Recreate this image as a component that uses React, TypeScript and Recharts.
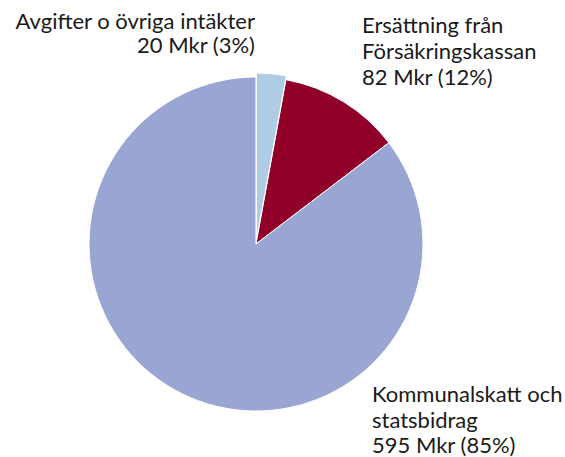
import React from 'react';
import { PieChart, Pie, Cell } from 'recharts';

const categories = ['Avgifter o övriga intäkter', 'Ersättning från Försäkringskassan', 'Kommunalskatt och statsbidrag'];
const values = [20, 82, 595];
const percents = ['3%', '12%', '85%'];
const colors = ['#AECDE5', '#900029', '#99A5D3'];
const labelLines = [
  ['Avgifter o övriga intäkter', '20 Mkr (3%)'],
  ['Ersättning från', 'Försäkringskassan', '82 Mkr (12%)'],
  ['Kommunalskatt och', 'statsbidrag', '595 Mkr (85%)'],
];

const data = categories.map((name, i) => ({ name, value: values[i], pct: percents[i] }));

const FONT = 'Lato, "Open Sans", sans-serif';

// label anchor offsets relative to pie centre
const labelCfg = [
  { dx: -1, dy: -215, anchor: 'end', lh: 23.5 },
  { dx: 106, dy: -211, anchor: 'start', lh: 26 },
  { dx: 116, dy: 158, anchor: 'start', lh: 25.5 },
];

const renderLabel = (props: any) => {
  const { cx, cy, index } = props;
  const cfg = labelCfg[index];
  return (
    <text
      key={`lbl-${index}`}
      x={cx + cfg.dx}
      y={cy + cfg.dy}
      textAnchor={cfg.anchor}
      fill="#1a1a1a"
      fontSize={22}
      fontFamily={FONT}
    >
      {labelLines[index].map((t, j) => (
        <tspan key={j} x={cx + cfg.dx} dy={j === 0 ? 0 : cfg.lh}>
          {t}
        </tspan>
      ))}
    </text>
  );
};

export default function App() {
  return (
    <div style={{ position: 'absolute', left: 0, top: 0, background: '#fff' }}>
      <PieChart width={565} height={457} margin={{ top: 0, right: 0, bottom: 0, left: 0 }}>
        <Pie
          data={data}
          dataKey="value"
          nameKey="name"
          cx={256}
          cy={244}
          outerRadius={167}
          startAngle={90}
          endAngle={-270}
          stroke="#ffffff"
          strokeWidth={1}
          isAnimationActive={false}
          label={renderLabel}
          labelLine={false}
        >
          {data.map((d, i) => (
            <Cell key={i} fill={i === 0 ? 'transparent' : colors[i]} stroke={i === 0 ? 'none' : '#ffffff'} />
          ))}
        </Pie>
        <Pie
          data={data}
          dataKey="value"
          nameKey="name"
          cx={256.4}
          cy={240}
          outerRadius={167}
          startAngle={90}
          endAngle={-270}
          isAnimationActive={false}
          label={false}
          labelLine={false}
        >
          {data.map((d, i) => (
            <Cell key={i} fill={i === 0 ? colors[0] : 'transparent'} stroke={i === 0 ? '#ffffff' : 'none'} strokeWidth={1} />
          ))}
        </Pie>
      </PieChart>
    </div>
  );
}
